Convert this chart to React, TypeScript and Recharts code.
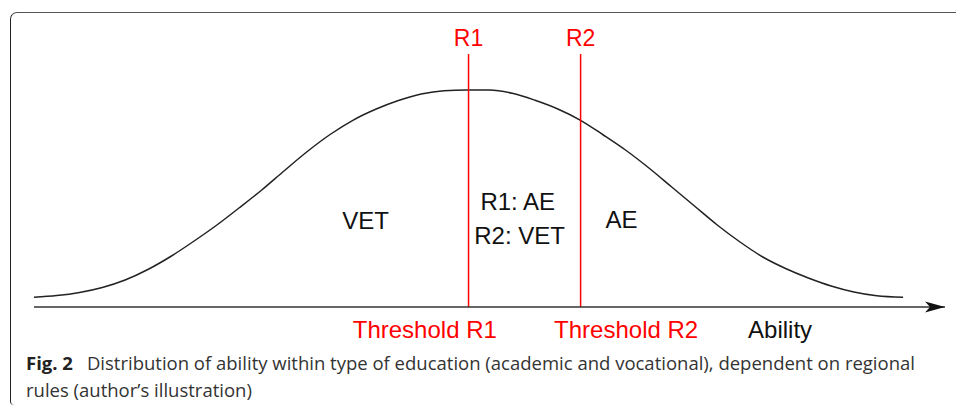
import React from 'react';
import { ComposedChart, Line, XAxis, YAxis, ReferenceLine, ReferenceDot } from 'recharts';

// ability scale 0..100, density
const abilityPoints = [
  0, 2.5, 5, 7.5, 10, 12.5, 15, 17.5, 20, 22.5, 25, 27.5, 30, 32.5, 35, 37.5, 40, 42.5, 45, 47.5,
  50, 52.5, 55, 57.5, 60, 62.5, 65, 67.5, 70, 72.5, 75, 77.5, 80, 82.5, 85, 87.5, 90, 92.5, 95.4,
];
const densityValues = [
  0.97, 1.14, 1.45, 1.95, 2.7, 3.75, 5.05, 6.55, 8.15, 9.9, 11.7, 13.65, 15.55, 17.25, 18.67, 19.77, 20.65, 21.3, 21.63, 21.7,
  21.7, 21.37, 20.67, 19.8, 18.67, 17.2, 15.65, 13.9, 12.0, 10.1, 8.2, 6.5, 5.0, 3.85, 2.9, 2.1, 1.5, 1.12, 0.97,
];

const thresholdNames = ['R1', 'R2'];
const thresholdValues = [47.7, 60];
const thresholdLabels = ['Threshold R1', 'Threshold R2'];
const regionLabels = ['VET', 'R1: AE', 'R2: VET', 'AE'];
const axisLabel = 'Ability';

const curve = abilityPoints.map((ability, i) => ({ ability, density: densityValues[i] }));

const FONT = '"Liberation Sans", Arial, sans-serif';

const textShape = (text: string, color: string, size: number) => (props: any) => (
  <text
    x={props.cx}
    y={props.cy}
    textAnchor="middle"
    dominantBaseline="central"
    fill={color}
    fontSize={size}
    fontFamily={FONT}
  >
    {text}
  </text>
);

const arrowShape = (props: any) => {
  const { cx, cy } = props;
  return (
    <polygon
      points={`${cx},${cy} ${cx - 20},${cy - 5.5} ${cx - 15},${cy} ${cx - 20},${cy + 5.5}`}
      fill="#111"
    />
  );
};

export default function App() {
  // annotation anchors in data units
  const regionPos = [
    { x: 36.4, y: 8.7 },
    { x: 53.1, y: 10.6 },
    { x: 53.3, y: 7.2 },
    { x: 64.5, y: 8.8 },
  ];
  const thresholdLabelX = [42.9, 65.0];

  return (
    <div style={{ position: 'absolute', left: 0, top: 0, width: 956, height: 409, overflow: 'hidden', background: '#fff' }}>
      <div
        style={{
          position: 'absolute',
          left: 10,
          top: 12,
          width: 960,
          height: 393,
          borderTop: '1.5px solid #555',
          borderLeft: '1.5px solid #222',
          borderTopLeftRadius: 7,
          borderBottomLeftRadius: 4,
          boxSizing: 'border-box',
        }}
      />
      <div style={{ position: 'absolute', left: 0, top: 0 }}>
        <ComposedChart width={956} height={409} data={curve} margin={{ top: 7, right: 11, bottom: 72, left: 34 }}>
          <XAxis
            type="number"
            dataKey="ability"
            domain={[0, 100]}
            ticks={[]}
            tick={false}
            tickLine={false}
            axisLine={{ stroke: '#333', strokeWidth: 1.5 }}
            height={30}
          />
          <YAxis type="number" domain={[0, 30]} hide />
          <Line
            type="monotone"
            dataKey="density"
            stroke="#222"
            strokeWidth={1.5}
            dot={false}
            isAnimationActive={false}
          />
          {thresholdValues.map((t, i) => (
            <ReferenceLine
              key={'tl' + i}
              segment={[{ x: t, y: 0 }, { x: t, y: 25.3 }]}
              stroke="#ff0000"
              strokeWidth={1.5}
              ifOverflow="visible"
            />
          ))}
          {thresholdValues.map((t, i) => (
            <ReferenceDot
              key={'tn' + i}
              x={t}
              y={26.9}
              ifOverflow="visible"
              shape={textShape(thresholdNames[i], '#ff0000', 23)}
            />
          ))}
          {thresholdLabels.map((label, i) => (
            <ReferenceDot
              key={'tb' + i}
              x={thresholdLabelX[i]}
              y={-2.27}
              ifOverflow="visible"
              shape={textShape(label, '#ff0000', 24)}
            />
          ))}
          {regionLabels.map((label, i) => (
            <ReferenceDot
              key={'rg' + i}
              x={regionPos[i].x}
              y={regionPos[i].y}
              ifOverflow="visible"
              shape={textShape(label, '#111', 24)}
            />
          ))}
          <ReferenceDot x={81.9} y={-2.27} ifOverflow="visible" shape={textShape(axisLabel, '#111', 24)} />
          <ReferenceDot x={100} y={0} ifOverflow="visible" shape={arrowShape} />
        </ComposedChart>
      </div>
      <div
        style={{
          position: 'absolute',
          left: 26,
          top: 350,
          fontFamily: '"Open Sans", "Noto Sans", sans-serif',
          fontSize: 18.5,
          lineHeight: '26.5px',
          color: '#333',
          whiteSpace: 'nowrap',
        }}
      >
        <span style={{ fontWeight: 700, color: '#222', marginRight: 14 }}>Fig. 2</span>
        Distribution of ability within type of education (academic and vocational), dependent on regional
        <br />
        rules (author’s illustration)
      </div>
    </div>
  );
}
